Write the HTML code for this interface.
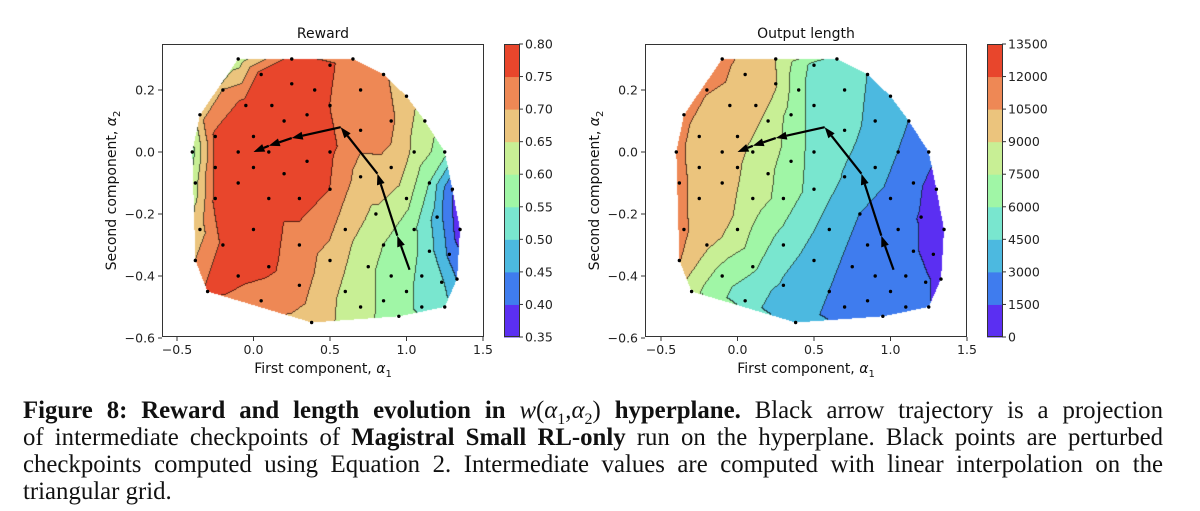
<!DOCTYPE html>
<html><head><meta charset="utf-8">
<style>
body{margin:0;background:#fff;width:1200px;height:511px;overflow:hidden;position:relative;font-family:"DejaVu Sans","Liberation Sans",sans-serif;}
canvas{position:absolute;}
svg{position:absolute;left:0;top:0;}
#caption{position:absolute;left:23px;top:397px;width:1140px;font-family:"Liberation Serif",serif;font-size:24.8px;line-height:27px;color:#111;}
#caption .ln{text-align:justify;text-align-last:justify;white-space:nowrap;height:27px;}
#caption .ln.last{text-align-last:left;}
</style></head>
<body>
<canvas id="c-left" width="322" height="293" style="left:162px;top:44px"></canvas>
<canvas id="c-right" width="322" height="293" style="left:645px;top:44px"></canvas>
<svg id="svg" width="1200" height="511"></svg>
<div id="caption">
<div class="ln"><b>Figure 8: Reward and length evolution in </b><i>w</i>(<i>α</i><sub style="font-size:16px">1</sub>,<i>α</i><sub style="font-size:16px">2</sub>)<b> hyperplane.</b> Black arrow trajectory is a projection</div>
<div class="ln">of intermediate checkpoints of <b>Magistral Small RL-only</b> run on the hyperplane. Black points are perturbed</div>
<div class="ln">checkpoints computed using Equation 2. Intermediate values are computed with linear interpolation on the</div>
<div class="ln last">triangular grid.</div>
</div>
<script>
const ptsX=[-0.1,0.25,0.65,0.05,0.5,0.85,-0.2,0.25,0.4,0.7,1.0,-0.35,-0.05,0.12,0.35,0.5,0.2,0.9,1.12,-0.25,0,0.7,-0.4,-0.1,0.1,0.5,1.05,1.25,-0.25,0,0.35,0.9,0.2,0.7,-0.38,-0.1,1.15,0.5,1.3,-0.25,0.1,0.3,1.0,0.8,1.2,-0.35,0,0.6,1.05,1.35,-0.2,0.3,0.85,1.15,1.28,-0.38,0.5,0.1,0.75,-0.1,0.9,1.1,1.33,-0.3,0.3,0.6,1.0,1.23,0.05,0.85,0.7,1.1,1.25,0.95,0.38];
const ptsY=[0.3,0.3,0.3,0.25,0.28,0.25,0.2,0.22,0.2,0.2,0.18,0.12,0.15,0.15,0.12,0.15,0.1,0.1,0.1,0.05,0.05,0.07,0,0,0,0,0,0,-0.05,-0.05,-0.03,-0.05,-0.07,-0.08,-0.1,-0.1,-0.1,-0.12,-0.12,-0.15,-0.15,-0.15,-0.15,-0.2,-0.21,-0.25,-0.25,-0.25,-0.25,-0.25,-0.3,-0.3,-0.3,-0.32,-0.33,-0.35,-0.35,-0.37,-0.37,-0.4,-0.4,-0.4,-0.41,-0.45,-0.43,-0.45,-0.45,-0.42,-0.48,-0.48,-0.5,-0.5,-0.5,-0.53,-0.55];
const rewardVals=[0.62,0.77,0.72,0.77,0.76,0.71,0.70,0.77,0.77,0.72,0.67,0.68,0.77,0.77,0.77,0.75,0.77,0.71,0.63,0.76,0.77,0.72,0.58,0.77,0.77,0.76,0.64,0.57,0.76,0.77,0.77,0.69,0.77,0.68,0.63,0.77,0.55,0.75,0.40,0.76,0.77,0.77,0.62,0.64,0.48,0.68,0.77,0.67,0.56,0.37,0.76,0.73,0.60,0.52,0.44,0.70,0.68,0.76,0.61,0.76,0.58,0.54,0.45,0.76,0.72,0.64,0.56,0.51,0.73,0.59,0.62,0.54,0.52,0.57,0.68];
const lengthVals=[11000,9000,5300,9800,5500,4500,10600,9200,6500,5000,3800,11000,10000,9700,7000,5500,8600,4200,3000,9800,9800,4900,11000,9800,8600,5500,3000,2000,9800,9200,6800,3800,7800,4400,11000,9800,2000,5400,800,9800,8300,7000,2500,3000,1400,10800,8700,3900,2000,600,9300,5300,2200,1800,800,10600,3900,6300,2500,6800,2000,2000,1000,8000,4300,3000,2000,1800,5000,2200,2500,2200,1600,2200,3500];
const trajX=[1.02,0.94,0.81,0.57,0.25,0.1,0];
const trajY=[-0.38,-0.27,-0.07,0.08,0.045,0.02,0];
const rewardLevels=[0.35,0.40,0.45,0.50,0.55,0.60,0.65,0.70,0.75,0.80];
const rewardTickLabels=["0.35","0.40","0.45","0.50","0.55","0.60","0.65","0.70","0.75","0.80"];
const lengthLevels=[0,1500,3000,4500,6000,7500,9000,10500,12000,13500];
const lengthTickLabels=["0","1500","3000","4500","6000","7500","9000","10500","12000","13500"];
const xTicks=[-0.5,0,0.5,1.0,1.5];
const xTickLabels=["\u22120.5","0.0","0.5","1.0","1.5"];
const yTicks=[0.2,0,-0.2,-0.4,-0.6];
const yTickLabels=["0.2","0.0","\u22120.2","\u22120.4","\u22120.6"];
const binColors=["#5b2ff2","#3f7cee","#4cb9e0","#79e6cf","#a0f6a6","#c8ef95","#ebc47d","#ee8855","#e8462c"];

const SX=153, SY=310, Y0=152;
const panels=[
 {name:"reward",title:"Reward",x0:253.5,left:162,vals:rewardVals,levels:rewardLevels,labels:rewardTickLabels,cb:504,canvas:"c-left"},
 {name:"length",title:"Output length",x0:737.5,left:645,vals:lengthVals,levels:lengthLevels,labels:lengthTickLabels,cb:987,canvas:"c-right"}
];
const AX_TOP=44, AX_BOT=337, AX_W=322;

function delaunay(P){
  const n=P.length;
  const pts=P.slice();
  pts.push([-10,-10],[10,-10],[0,10]);
  function circ(a,b,c){
    const [ax,ay]=pts[a],[bx,by]=pts[b],[cx,cy]=pts[c];
    const d=2*(ax*(by-cy)+bx*(cy-ay)+cx*(ay-by));
    const ux=((ax*ax+ay*ay)*(by-cy)+(bx*bx+by*by)*(cy-ay)+(cx*cx+cy*cy)*(ay-by))/d;
    const uy=((ax*ax+ay*ay)*(cx-bx)+(bx*bx+by*by)*(ax-cx)+(cx*cx+cy*cy)*(bx-ax))/d;
    return [ux,uy,(ax-ux)**2+(ay-uy)**2];
  }
  let tris=[[n,n+1,n+2,...circ(n,n+1,n+2)]];
  for(let i=0;i<n;i++){
    const [px,py]=pts[i];
    const bad=[],keep=[];
    for(const t of tris){ if((px-t[3])**2+(py-t[4])**2<t[5]-1e-12) bad.push(t); else keep.push(t); }
    const edges=[];
    for(const t of bad){ edges.push([t[0],t[1]],[t[1],t[2]],[t[2],t[0]]); }
    const cnt={};
    for(const e of edges){const k=Math.min(e[0],e[1])+"_"+Math.max(e[0],e[1]);cnt[k]=(cnt[k]||0)+1;}
    tris=keep;
    for(const e of edges){const k=Math.min(e[0],e[1])+"_"+Math.max(e[0],e[1]); if(cnt[k]===1) tris.push([e[0],e[1],i,...circ(e[0],e[1],i)]);}
  }
  return tris.filter(t=>t[0]<n&&t[1]<n&&t[2]<n).map(t=>[t[0],t[1],t[2]]);
}
const P=ptsX.map((x,i)=>[x,ptsY[i]]);
const TRI=delaunay(P);

function renderField(p){
  const cv=document.getElementById(p.canvas);
  const W=cv.width,H=cv.height,ctx=cv.getContext("2d");
  const val=new Float32Array(W*H).fill(NaN);
  const px=ptsX.map(x=>p.x0+x*SX-p.left), py=ptsY.map(y=>Y0-y*SY-AX_TOP);
  for(const [a,b,c] of TRI){
    const x1=px[a],y1=py[a],x2=px[b],y2=py[b],x3=px[c],y3=py[c];
    const det=(y2-y3)*(x1-x3)+(x3-x2)*(y1-y3); if(Math.abs(det)<1e-9) continue;
    const minx=Math.max(0,Math.floor(Math.min(x1,x2,x3))),maxx=Math.min(W-1,Math.ceil(Math.max(x1,x2,x3)));
    const miny=Math.max(0,Math.floor(Math.min(y1,y2,y3))),maxy=Math.min(H-1,Math.ceil(Math.max(y1,y2,y3)));
    for(let j=miny;j<=maxy;j++)for(let i=minx;i<=maxx;i++){
      const X=i+0.5,Y=j+0.5;
      const l1=((y2-y3)*(X-x3)+(x3-x2)*(Y-y3))/det, l2=((y3-y1)*(X-x3)+(x1-x3)*(Y-y3))/det, l3=1-l1-l2;
      if(l1>=-1e-6&&l2>=-1e-6&&l3>=-1e-6) val[j*W+i]=l1*p.vals[a]+l2*p.vals[b]+l3*p.vals[c];
    }
  }
  const lv=p.levels, bin=new Int8Array(W*H).fill(-1);
  for(let k=0;k<W*H;k++){ const v=val[k]; if(isNaN(v)) continue; let b=0; while(b<lv.length-2&&v>=lv[b+1]) b++; bin[k]=b; }
  const img=ctx.createImageData(W,H);
  const rgb=binColors.map(h=>[parseInt(h.slice(1,3),16),parseInt(h.slice(3,5),16),parseInt(h.slice(5,7),16)]);
  for(let j=0;j<H;j++)for(let i=0;i<W;i++){
    const k=j*W+i,b=bin[k]; if(b<0) continue;
    let c=rgb[b], line=false;
    if(i+1<W&&bin[k+1]>=0&&bin[k+1]!==b) line=true;
    if(j+1<H&&bin[k+W]>=0&&bin[k+W]!==b) line=true;
    const o=k*4;
    if(line){img.data[o]=c[0]*0.35;img.data[o+1]=c[1]*0.35;img.data[o+2]=c[2]*0.35;}
    else{img.data[o]=c[0];img.data[o+1]=c[1];img.data[o+2]=c[2];}
    img.data[o+3]=255;
  }
  ctx.putImageData(img,0,0);
}

const NS="http://www.w3.org/2000/svg";
const svg=document.getElementById("svg");
function mk(tag,attrs,parent){const e=document.createElementNS(NS,tag);for(const k in attrs)e.setAttribute(k,attrs[k]);(parent||svg).appendChild(e);return e;}

panels.forEach(p=>{
  renderField(p);
  const g=mk("g",{});
  
  
  const fx=x=>p.x0+x*SX, fy=y=>Y0-y*SY;
  ptsX.forEach((x,i)=>{
    const d=mk("circle",{cx:fx(x),cy:fy(ptsY[i]),r:1.7,fill:"#000"},g);
    
    
  });
  for(let i=0;i<trajX.length-1;i++){
    const x1=fx(trajX[i]),y1=fy(trajY[i]),x2=fx(trajX[i+1]),y2=fy(trajY[i+1]);
    const dx=x2-x1,dy=y2-y1,L=Math.hypot(dx,dy),ux=dx/L,uy=dy/L,hl=Math.min(11,L*0.9),hw=4;
    const bx=x2-ux*hl,by=y2-uy*hl;
    const ln=mk("line",{x1:x1,y1:y1,x2:bx,y2:by,stroke:"#000","stroke-width":2.2},g);
    
    
    const hd=mk("polygon",{points:`${x2},${y2} ${bx-uy*hw},${by+ux*hw} ${bx+uy*hw},${by-ux*hw}`,fill:"#000"},g);
    
    
  }
  const fr=mk("rect",{x:p.left+0.5,y:AX_TOP+0.5,width:AX_W-1,height:AX_BOT-AX_TOP-1,fill:"none",stroke:"#333","stroke-width":1},g);
  
  
  xTicks.forEach((t,i)=>{
    const x=fx(t);
    mk("line",{x1:x,y1:AX_BOT,x2:x,y2:AX_BOT+4,stroke:"#333"},g);
    const tx=mk("text",{x:x,y:AX_BOT+17,"text-anchor":"middle","font-size":12.5,fill:"#222"},g);
    tx.textContent=xTickLabels[i];
    
    
  });
  yTicks.forEach((t,i)=>{
    const y=fy(t);
    mk("line",{x1:p.left-4,y1:y,x2:p.left,y2:y,stroke:"#333"},g);
    const tx=mk("text",{x:p.left-7,y:y+4.5,"text-anchor":"end","font-size":12.5,fill:"#222"},g);
    tx.textContent=yTickLabels[i];
    
    
  });
  const ti=mk("text",{x:p.left+AX_W/2,y:38,"text-anchor":"middle","font-size":14,fill:"#111"},g);
  ti.textContent=p.title;
  
  
  const xl=mk("text",{x:p.left+AX_W/2,y:373,"text-anchor":"middle","font-size":14,fill:"#111"},g);
  xl.innerHTML='First component, <tspan font-style="italic">α</tspan><tspan font-size="10" dy="4">1</tspan>';
  
  
  const yl=mk("text",{x:0,y:0,"text-anchor":"middle","font-size":14,fill:"#111",transform:`translate(${p.left-46},${(AX_TOP+AX_BOT)/2}) rotate(-90)`},g);
  yl.innerHTML='Second component, <tspan font-style="italic">α</tspan><tspan font-size="10" dy="4">2</tspan>';
  
  
  const lv=p.levels, n=lv.length-1, ch=(AX_BOT-AX_TOP)/n;
  for(let b=0;b<n;b++){
    const r=mk("rect",{x:p.cb,y:AX_BOT-(b+1)*ch,width:15,height:ch+0.5,fill:binColors[b]},g);
    
    
  }
  mk("rect",{x:p.cb+0.5,y:AX_TOP+0.5,width:15,height:AX_BOT-AX_TOP-1,fill:"none",stroke:"#333"},g);
  lv.forEach((v,i)=>{
    const y=AX_BOT-i*ch;
    mk("line",{x1:p.cb+15,y1:y,x2:p.cb+19,y2:y,stroke:"#333"},g);
    const tx=mk("text",{x:p.cb+21,y:y+4.5,"font-size":12.5,fill:"#222"},g);
    tx.textContent=p.labels[i];
    
    
  });
});
</script>
</body></html>
